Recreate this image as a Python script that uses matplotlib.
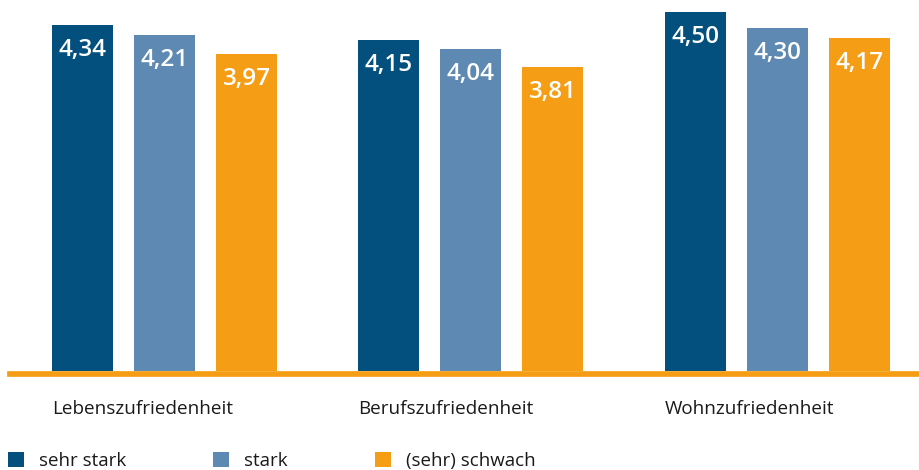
import matplotlib
matplotlib.use("Agg")
import matplotlib.pyplot as plt
import numpy as np

# Daten
categories = ["Lebenszufriedenheit", "Berufszufriedenheit", "Wohnzufriedenheit"]
series_names = ["sehr stark", "stark", "(sehr) schwach"]
sehr_stark = [4.34, 4.15, 4.50]
stark = [4.21, 4.04, 4.30]
schwach = [3.97, 3.81, 4.17]

colors = ["#03507f", "#5e89b3", "#f59d14"]

plt.rcParams["font.family"] = ["Open Sans", "DejaVu Sans"]

fig = plt.figure(figsize=(9.19, 4.70), dpi=100)
# Achse: links bei 10 px, unten bei 371 px
ax = fig.add_axes([10 / 919, 1 - 371 / 470, 1 - 10 / 919, 371 / 470])

x = np.arange(len(categories))
offset = 0.2675
width = 0.199

for i, (vals, name) in enumerate(zip([sehr_stark, stark, schwach], series_names)):
    pos = x + (i - 1) * offset
    bars = ax.bar(pos, vals, width=width, color=colors[i], label=name, zorder=3)
    for b, v in zip(bars, vals):
        ax.annotate(f"{v:.2f}".replace(".", ","),
                    xy=(b.get_x() + b.get_width() / 2, v),
                    xytext=(0, -18), textcoords="offset points",
                    ha="center", va="center", color="white", fontsize=17.5,
                    fontweight="semibold", zorder=4)

ax.set_xlim(-0.504, 2.462)
ax.set_ylim(0, 4.649)

for s in ["top", "right", "left"]:
    ax.spines[s].set_visible(False)
ax.spines["bottom"].set_color("#f59d14")
ax.spines["bottom"].set_linewidth(4.1)
ax.spines["bottom"].set_position(("outward", 2.05))
ax.set_yticks([])
ax.set_xticks([])

# Kategorien linksbündig unter dem ersten Balken
for xi, cat in zip(x, categories):
    ax.text(xi - offset - width / 2, -0.48, cat, fontsize=13.6, color="#1a1a1a",
            ha="left", va="center")

leg = fig.legend(loc="lower left", bbox_to_anchor=(8 / 919, 0.0), ncol=3,
                 frameon=False, fontsize=13.5, handlelength=0.85, handleheight=0.85,
                 handletextpad=0.8, columnspacing=4.65, borderaxespad=0, borderpad=0)
for t in leg.get_texts():
    t.set_color("#1a1a1a")

fig.savefig("out.png", dpi=100)
